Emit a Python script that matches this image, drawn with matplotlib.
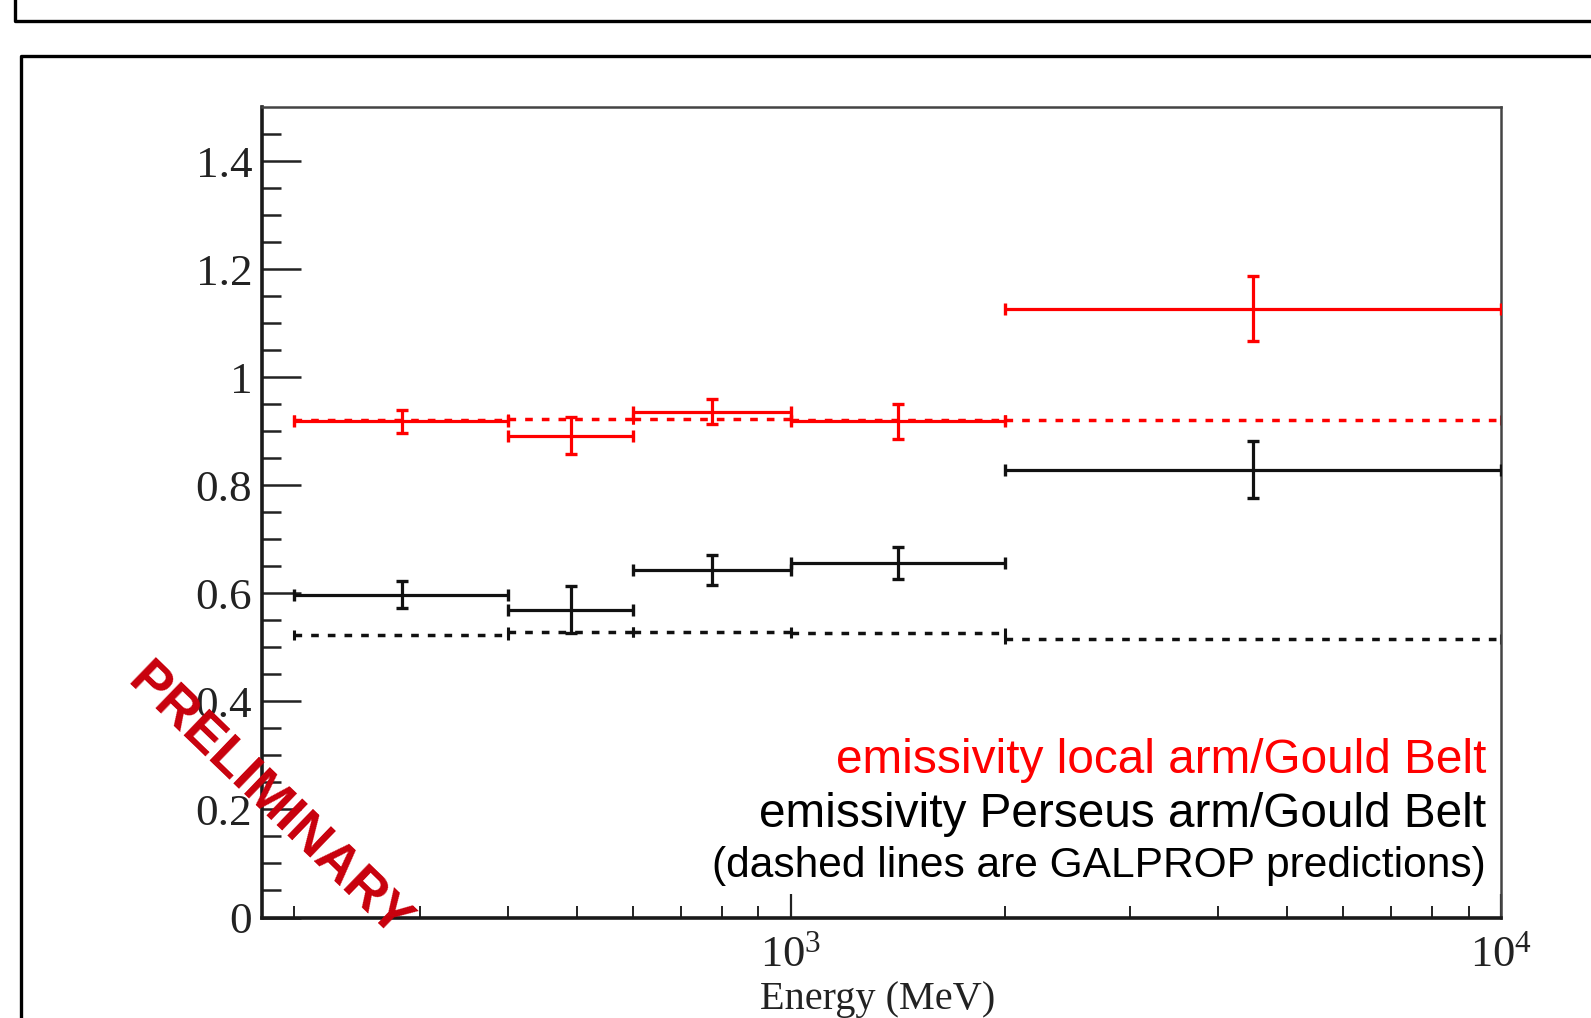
import matplotlib
matplotlib.use("Agg")
import matplotlib.pyplot as plt
from matplotlib.lines import Line2D
from matplotlib.ticker import FixedLocator, NullFormatter
import numpy as np

# energy bins (MeV) and bin centres (geometric means)
bin_lo = [200, 400, 600, 1000, 2000]
bin_hi = [400, 600, 1000, 2000, 10000]
bin_mid = [283, 490, 775, 1414, 4472]

# emissivity ratios
local_vals = [0.918, 0.892, 0.936, 0.918, 1.127]
local_errs = [0.021, 0.035, 0.023, 0.032, 0.060]
perseus_vals = [0.597, 0.570, 0.643, 0.656, 0.829]
perseus_errs = [0.025, 0.043, 0.027, 0.030, 0.052]

# GALPROP predictions (dashed)
local_model = [0.920, 0.923, 0.923, 0.920, 0.920]
perseus_model = [0.522, 0.528, 0.528, 0.526, 0.515]

yticks = [0, 0.2, 0.4, 0.6, 0.8, 1, 1.2, 1.4]
ytick_labels = ["0", "0.2", "0.4", "0.6", "0.8", "1", "1.2", "1.4"]

plt.rcParams['font.family'] = ['Liberation Serif', 'DejaVu Serif']
plt.rcParams['mathtext.fontset'] = 'custom'
plt.rcParams['mathtext.rm'] = 'Liberation Serif'
plt.rcParams['mathtext.it'] = 'Liberation Serif:italic'

W, H = 1591, 1018
fig = plt.figure(figsize=(W / 100, H / 100), dpi=100)

# outer pad frames (ROOT canvas boxes)
def px_line(xs, ys, lw=2.4):
    fig.add_artist(Line2D([x / W for x in xs], [1 - y / H for y in ys],
                          transform=fig.transFigure, color='black', lw=lw,
                          solid_capstyle='projecting'))

px_line([15, 15, W + 5], [-5, 21, 21])
px_line([21, 21, W + 5], [H + 5, 56, 56])

ax = fig.add_axes([262 / W, 1 - 917.5 / H, (1501 - 262) / W, (917.5 - 107) / H])
ax.set_xscale('log')
ax.set_xlim(180, 10000)
ax.set_ylim(0, 1.5)

x = np.array(bin_mid, dtype=float)
xerr = [x - np.array(bin_lo), np.array(bin_hi) - x]


def draw(vals, errs, model, color):
    # model (dashed step with small end caps)
    c = ax.errorbar(x, model, xerr=xerr, fmt='none', ecolor=color,
                    elinewidth=2.5, capsize=3.5, capthick=2.2, zorder=2)
    for lc in c[2]:
        lc.set_linestyle((0, (2.2, 2.6)))
    # measured emissivity
    ax.errorbar(x, vals, xerr=xerr, yerr=errs, fmt='none', ecolor=color,
                elinewidth=2.3, capsize=4.3, capthick=2.4, zorder=3)


draw(local_vals, local_errs, local_model, '#ff0000')
draw(perseus_vals, perseus_errs, perseus_model, '#111111')

# axes style
for side in ['left', 'bottom']:
    ax.spines[side].set_linewidth(2.6)
    ax.spines[side].set_color('#1a1a1a')
for side in ['top', 'right']:
    ax.spines[side].set_linewidth(1.8)
    ax.spines[side].set_color('#444444')

ax.set_yticks(yticks)
ax.set_yticklabels(ytick_labels)
ax.yaxis.set_minor_locator(FixedLocator(np.arange(0.05, 1.5, 0.05)))
ax.tick_params(axis='y', which='major', direction='in', length=28, width=1.8,
               labelsize=32.5, pad=7, colors='#222222', labelcolor='#222222')
ax.tick_params(axis='y', which='minor', direction='in', length=14, width=1.8,
               colors='#222222')

ax.set_xticks([1e3, 1e4])
ax.set_xticklabels([r'$\mathregular{10^{3}}$', r'$\mathregular{10^{4}}$'])
minor_x = [200, 300, 400, 500, 600, 700, 800, 900,
           2000, 3000, 4000, 5000, 6000, 7000, 8000, 9000]
ax.xaxis.set_minor_locator(FixedLocator(minor_x))
ax.xaxis.set_minor_formatter(NullFormatter())
ax.tick_params(axis='x', which='major', direction='in', length=17, width=1.6,
               labelsize=32, pad=13, colors='#222222', labelcolor='#222222')
ax.tick_params(axis='x', which='minor', direction='in', length=9, width=1.4,
               colors='#222222')

fig.text(878 / W, 1 - 1009 / H, 'Energy (MeV)', ha='center', va='baseline',
         fontsize=29, color='#222222')

# legend text
sans = ['Liberation Sans', 'DejaVu Sans']
fig.text(1486 / W, 1 - 773 / H, 'emissivity local arm/Gould Belt', ha='right',
         va='baseline', fontsize=34.4, color='#ff0000', family=sans)
fig.text(1486 / W, 1 - 827 / H, 'emissivity Perseus arm/Gould Belt', ha='right',
         va='baseline', fontsize=34.4, color='black', family=sans)
fig.text(1486 / W, 1 - 877 / H, '(dashed lines are GALPROP predictions)', ha='right',
         va='baseline', fontsize=30.6, color='black', family=sans)

fig.text(268 / W, 1 - 802 / H, 'PRELIMINARY', ha='center', va='center',
         rotation=-44, rotation_mode='anchor', fontsize=39, fontweight='bold',
         color='#c8000c', family=sans)

fig.savefig('out.png', dpi=100)
